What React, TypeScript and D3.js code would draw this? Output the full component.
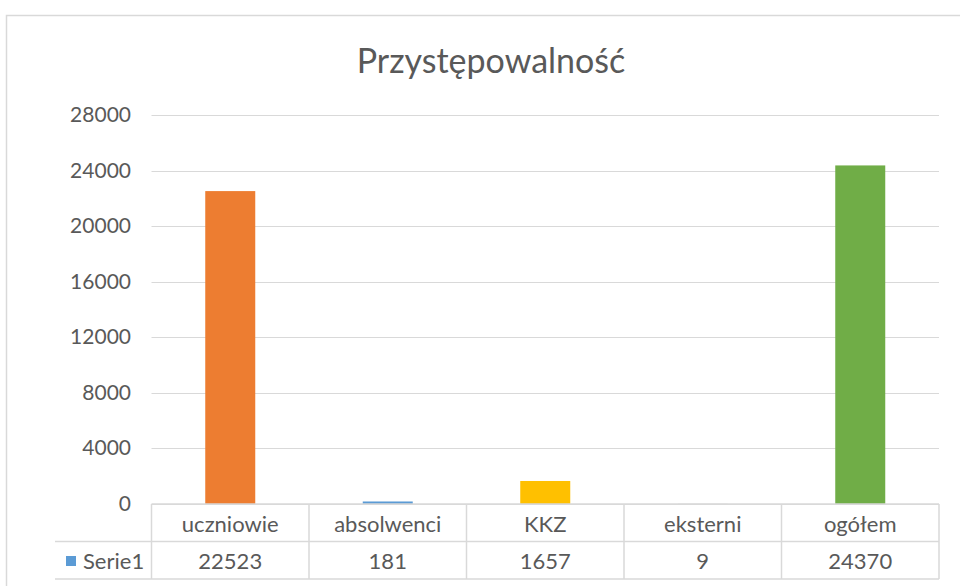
import React, { useEffect, useRef } from 'react';
import * as d3 from 'd3';

const title = 'Przystępowalność';
const categories = ['uczniowie', 'absolwenci', 'KKZ', 'eksterni', 'ogółem'];
const values = [22523, 181, 1657, 9, 24370];
const barColors = ['#ED7D31', '#5B9BD5', '#FFC000', '#A5A5A5', '#70AD47'];
const seriesName = 'Serie1';
const seriesColor = '#5B9BD5';
const yTicks = [0, 4000, 8000, 12000, 16000, 20000, 24000, 28000];

const App = () => {
    const svgRef = useRef<SVGSVGElement>(null);

    useEffect(() => {
        const svg = d3.select(svgRef.current);
        svg.selectAll('*').remove();

        const font = 'Lato, "Open Sans", sans-serif';
        const textColor = '#595959';
        const gridColor = '#d9d9d9';

        const left = 151.5;
        const right = 939;
        const top = 115;
        const bottom = 504;
        const rowH = 37.5;

        // outer chart border (runs past the window on right and bottom)
        svg.append('rect')
            .attr('x', 6.5)
            .attr('y', 15.5)
            .attr('width', 1000)
            .attr('height', 1000)
            .attr('fill', 'white')
            .attr('stroke', gridColor)
            .attr('stroke-width', 1.5);

        svg.append('text')
            .attr('x', 491)
            .attr('y', 73)
            .attr('text-anchor', 'middle')
            .attr('font-family', font)
            .attr('font-size', '34px')
            .attr('fill', textColor)
            .text(title);

        const y = d3.scaleLinear().domain([0, 28000]).range([bottom, top]);
        const x = d3.scaleBand().domain(categories).range([left, right]);

        svg.selectAll('.grid')
            .data(yTicks)
            .enter()
            .append('line')
            .attr('x1', left)
            .attr('x2', right)
            .attr('y1', d => Math.round(y(d)) + 0.5)
            .attr('y2', d => Math.round(y(d)) + 0.5)
            .attr('stroke', gridColor)
            .attr('stroke-width', 1);

        svg.selectAll('.ylabel')
            .data(yTicks)
            .enter()
            .append('text')
            .attr('x', 131)
            .attr('y', d => y(d) + 7)
            .attr('text-anchor', 'end')
            .attr('font-family', font)
            .attr('font-size', '21px')
            .attr('fill', textColor)
            .text(d => d);

        const barW = 50;
        svg.selectAll('.bar')
            .data(values)
            .enter()
            .append('rect')
            .attr('x', (d, i) => x(categories[i])! + x.bandwidth() / 2 - barW / 2)
            .attr('y', d => y(d))
            .attr('width', barW)
            .attr('height', d => bottom - y(d))
            .attr('fill', (d, i) => barColors[i]);

        // data table
        const tbl = svg.append('g')
            .attr('stroke', gridColor)
            .attr('stroke-width', 1.5);
        tbl.append('line').attr('x1', left).attr('x2', right).attr('y1', bottom).attr('y2', bottom);
        tbl.append('line').attr('x1', 55).attr('x2', right).attr('y1', bottom + rowH).attr('y2', bottom + rowH);
        tbl.append('line').attr('x1', 55).attr('x2', right).attr('y1', bottom + 2 * rowH).attr('y2', bottom + 2 * rowH);
        const edges = categories.map(c => x(c)!).concat([right]);
        tbl.selectAll('.vline')
            .data(edges)
            .enter()
            .append('line')
            .attr('x1', d => d)
            .attr('x2', d => d)
            .attr('y1', bottom)
            .attr('y2', bottom + 2 * rowH);

        svg.selectAll('.cat')
            .data(categories)
            .enter()
            .append('text')
            .attr('x', d => x(d)! + x.bandwidth() / 2)
            .attr('y', bottom + 28)
            .attr('text-anchor', 'middle')
            .attr('font-family', font)
            .attr('font-size', '22px')
            .attr('fill', textColor)
            .text(d => d);

        svg.selectAll('.val')
            .data(values)
            .enter()
            .append('text')
            .attr('x', (d, i) => x(categories[i])! + x.bandwidth() / 2)
            .attr('y', bottom + rowH + 27)
            .attr('text-anchor', 'middle')
            .attr('font-family', font)
            .attr('font-size', '22px')
            .attr('fill', textColor)
            .text(d => d);

        svg.append('rect')
            .attr('x', 66)
            .attr('y', 556)
            .attr('width', 10)
            .attr('height', 10)
            .attr('fill', seriesColor);

        svg.append('text')
            .attr('x', 83)
            .attr('y', bottom + rowH + 27)
            .attr('font-family', font)
            .attr('font-size', '22px')
            .attr('fill', textColor)
            .text(seriesName);
    }, []);

    return (
        <svg
            ref={svgRef}
            width={960}
            height={586}
            style={{ position: 'absolute', left: 0, top: 0, display: 'block', background: 'white' }}
        />
    );
};

export default App;
